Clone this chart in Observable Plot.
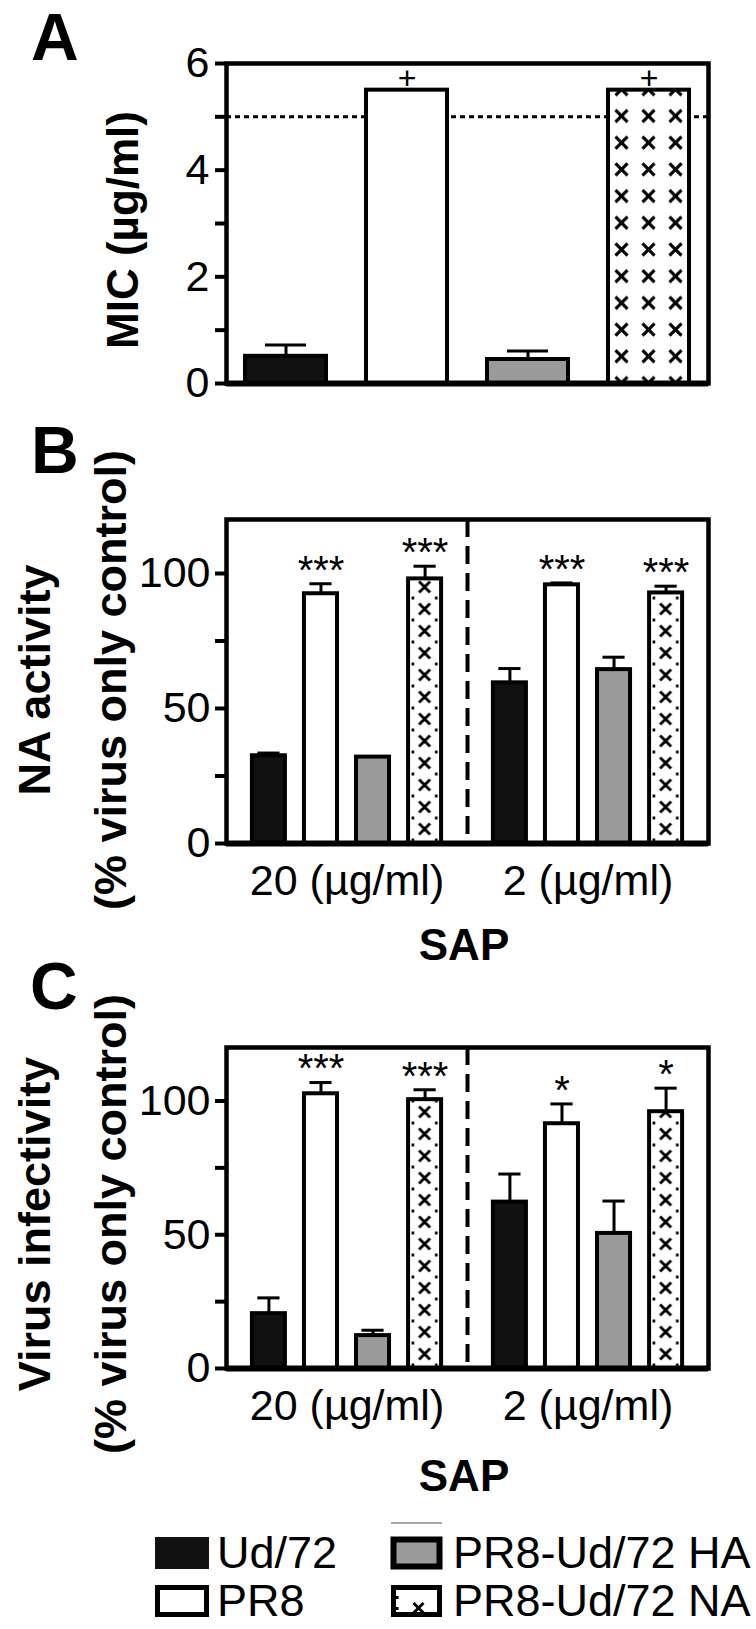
<!DOCTYPE html>
<html><head><meta charset="utf-8">
<script src="https://cdn.jsdelivr.net/npm/d3@7"></script>
<script src="https://cdn.jsdelivr.net/npm/@observablehq/plot@0.6"></script>
<style>
html,body{margin:0;padding:0;background:#fff;}
#root{position:relative;width:756px;height:1629px;overflow:hidden;background:#fff;}
.p [aria-label^="y-axis"] line, .p [aria-label^="y-axis"] path{stroke-width:4px;}
</style></head>
<body><div id="root"></div>
<script>
// ---------- data ----------
const series = ["Ud/72", "PR8", "PR8-Ud/72 HA", "PR8-Ud/72 NA"];
// Panel A: MIC (µg/ml)
const micValues = [0.51, 5.5, 0.45, 5.5];
const micErrors = [0.21, 0, 0.16, 0];
const micMarks = ["", "+", "", "+"];
const micThreshold = 5;
const micTicks = [0, 1, 2, 3, 4, 5, 6];
const micTickLabels = [0, 2, 4, 6];
// SAP doses (groups) for B and C
const doses = ["20 (µg/ml)", "2 (µg/ml)"];
// Panel B: NA activity (% virus only control)
const naValues20 = [32.5, 92.5, 32.0, 98.0];
const naErrors20 = [1.0, 3.7, 0, 4.7];
const naValues2 = [59.5, 95.8, 64.4, 92.8];
const naErrors2 = [5.3, 0.7, 4.6, 2.5];
const naSig20 = ["", "***", "", "***"];
const naSig2 = ["", "***", "", "***"];
// Panel C: Virus infectivity (% virus only control)
const infValues20 = [20.5, 102.7, 12.3, 100.5];
const infErrors20 = [5.9, 4.2, 2.0, 3.7];
const infValues2 = [62.2, 91.5, 50.5, 96.0];
const infErrors2 = [10.5, 7.4, 12.1, 8.8];
const infSig20 = ["", "***", "", "***"];
const infSig2 = ["", "*", "", "*"];
const pctTicks = [0, 25, 50, 75, 100];
const pctTickLabels = [0, 50, 100];

// ---------- styles ----------
const FONT = "'Liberation Sans', Arial, Helvetica, sans-serif";
const HATCH = "#fefefe"; // sentinel, replaced by a pattern after render
const fills = {"Ud/72": "#111", "PR8": "#fff", "PR8-Ud/72 HA": "#9a9a9a", "PR8-Ud/72 NA": HATCH};
const root = document.getElementById("root");
const NS = "http://www.w3.org/2000/svg";

function place(svg, top) {
  svg.classList.add("p");
  svg.style.position = "absolute";
  svg.style.top = top + "px";
  svg.style.left = "0px";
  svg.style.maxWidth = "none";
  root.appendChild(svg);
}

let patCount = 0;
function applyHatch(svg, cols, tileH, rowOffset, dots, size, sw) {
  const defs = document.createElementNS(NS, "defs");
  svg.insertBefore(defs, svg.firstChild);
  const rects = svg.querySelectorAll(`[fill="${HATCH}"] rect`);
  rects.forEach(r => {
    const x = +r.getAttribute("x"), y = +r.getAttribute("y");
    const w = +r.getAttribute("width"), h = +r.getAttribute("height");
    const tw = w / cols;
    const id = "hatch" + (patCount++);
    const p = document.createElementNS(NS, "pattern");
    p.setAttribute("id", id);
    p.setAttribute("patternUnits", "userSpaceOnUse");
    p.setAttribute("x", x);
    p.setAttribute("y", y + h - rowOffset - tileH / 2);
    p.setAttribute("width", tw);
    p.setAttribute("height", tileH);
    const cx = tw / 2, cy = tileH / 2, s = size;
    let inner = `<rect width="${tw}" height="${tileH}" fill="#fff"/>` +
      `<path d="M${cx - s},${cy - s}L${cx + s},${cy + s}M${cx + s},${cy - s}L${cx - s},${cy + s}" stroke="#000" stroke-width="${sw}" fill="none"/>`;
    if (dots) {
      for (const dy of [-1.5, tileH - 1.5]) {
        inner += `<rect x="3.5" y="${dy}" width="2.6" height="3" fill="#000"/><rect x="${tw - 6.1}" y="${dy}" width="2.6" height="3" fill="#000"/>`;
      }
    }
    p.innerHTML = inner;
    defs.appendChild(p);
    r.setAttribute("fill", `url(#${id})`);
  });
}

const plotStyle = {fontFamily: FONT, fontSize: "43px", color: "#000", background: "transparent", overflow: "visible"};

// ---------- Panel A ----------
const dataA = series.map((s, i) => ({series: s, value: micValues[i], err: micErrors[i], mark: micMarks[i]}));
const plotA = Plot.plot({
  width: 756, height: 400,
  marginLeft: 226, marginRight: 48, marginTop: 63, marginBottom: 17,
  style: plotStyle,
  x: {domain: series, paddingInner: 0.33, paddingOuter: 0.15, axis: null},
  y: {domain: [0, 6], ticks: micTicks, tickFormat: d => micTickLabels.includes(d) ? d : "", tickSize: 11, tickPadding: 6, label: null},
  marks: [
    Plot.ruleY([micThreshold], {stroke: "#000", strokeWidth: 3, strokeDasharray: "5,4"}),
    ...series.map(s => Plot.barY(dataA.filter(d => d.series === s), {x: "series", y: "value", fill: fills[s], stroke: "#000", strokeWidth: 4})),
    Plot.ruleX(dataA.filter(d => d.err > 0), {x: "series", y1: "value", y2: d => d.value + d.err, stroke: "#000", strokeWidth: 3}),
    Plot.tickY(dataA.filter(d => d.err > 0), {x: "series", y: d => d.value + d.err, stroke: "#000", strokeWidth: 3, insetLeft: 20, insetRight: 20}),
    Plot.text(dataA.filter(d => d.mark), {x: "series", y: d => d.value + d.err, text: "mark", dy: -11, fontSize: 32, fill: "#000"}),
    Plot.frame({stroke: "#000", strokeWidth: 4.5}),
    Plot.ruleY([0], {stroke: "#000", strokeWidth: 6})
  ]
});
place(plotA, 0);
applyHatch(plotA, 3, 26.7, 0, false, 6, 3.2);

// ---------- Panels B and C ----------
const barStep = 0.216, barHalf = 0.0685, capHalf = 0.046;
function groupedData(v20, e20, v2, e2, s20, s2) {
  const vals = [v20, v2], errs = [e20, e2], sigs = [s20, s2];
  const out = [];
  doses.forEach((dose, gi) => series.forEach((s, si) => {
    const xc = gi + (si - 1.5) * barStep;
    out.push({dose, series: s, xc, value: vals[gi][si], err: errs[gi][si], sig: sigs[gi][si]});
  }));
  return out;
}
function groupedPlot(data, height, marginTop, marginBottom) {
  return Plot.plot({
    width: 756, height,
    marginLeft: 226, marginRight: 48, marginTop, marginBottom,
    style: plotStyle,
    x: {domain: [-0.5, 1.5], ticks: [0, 1], tickFormat: i => doses[i], tickSize: 0, tickPadding: 21, label: null},
    y: {domain: [0, 120], ticks: pctTicks, tickFormat: d => pctTickLabels.includes(d) ? d : "", tickSize: 11, tickPadding: 5, label: null},
    marks: [
      ...series.map(s => Plot.rect(data.filter(d => d.series === s), {x1: d => d.xc - barHalf, x2: d => d.xc + barHalf, y1: 0, y2: "value", fill: fills[s], stroke: "#000", strokeWidth: 4})),
      Plot.ruleX(data.filter(d => d.err > 0), {x: "xc", y1: "value", y2: d => d.value + d.err, stroke: "#000", strokeWidth: 3}),
      Plot.ruleY(data.filter(d => d.err > 0), {y: d => d.value + d.err, x1: d => d.xc - capHalf, x2: d => d.xc + capHalf, stroke: "#000", strokeWidth: 3}),
      Plot.text(data.filter(d => d.sig), {x: "xc", y: d => d.value + d.err, text: "sig", dy: -13, fontSize: 40, fill: "#000"}),
      Plot.ruleX([0.5], {stroke: "#000", strokeWidth: 4, strokeDasharray: "18,9"}),
      Plot.frame({stroke: "#000", strokeWidth: 4.5}),
      Plot.ruleY([0], {stroke: "#000", strokeWidth: 6})
    ]
  });
}
const dataB = groupedData(naValues20, naErrors20, naValues2, naErrors2, naSig20, naSig2);
const plotB = groupedPlot(dataB, 450, 39, 87);
place(plotB, 480);
applyHatch(plotB, 1, 22, 14, true, 5.5, 2.9);

const dataC = groupedData(infValues20, infErrors20, infValues2, infErrors2, infSig20, infSig2);
const plotC = groupedPlot(dataC, 440, 47, 72);
place(plotC, 1000);
applyHatch(plotC, 1, 22, 14, true, 5.5, 2.9);

// ---------- overlay: panel letters, axis titles, legend ----------
const ov = document.createElementNS(NS, "svg");
ov.setAttribute("width", 756); ov.setAttribute("height", 1629);
ov.style.position = "absolute"; ov.style.left = "0"; ov.style.top = "0";
ov.style.pointerEvents = "none";
ov.style.fontFamily = FONT;
root.appendChild(ov);
function txt(str, x, y, opts = {}) {
  const t = document.createElementNS(NS, "text");
  t.textContent = str;
  t.setAttribute("x", 0); t.setAttribute("y", 0);
  t.setAttribute("transform", `translate(${x},${y})` + (opts.rotate ? ` rotate(${opts.rotate})` : ""));
  t.setAttribute("font-size", opts.size || 44);
  if (opts.bold) t.setAttribute("font-weight", "bold");
  t.setAttribute("text-anchor", opts.anchor || "start");
  t.setAttribute("fill", "#000");
  ov.appendChild(t);
}
const panelLetters = ["A", "B", "C"];
txt(panelLetters[0], 31, 60, {size: 66, bold: true});
txt(panelLetters[1], 31, 473, {size: 66, bold: true});
txt(panelLetters[2], 30, 1009, {size: 66, bold: true});

const yTitles = {A: ["MIC (µg/ml)"], B: ["NA activity", "(% virus only control)"], C: ["Virus infectivity", "(% virus only control)"]};
txt(yTitles.A[0], 138, 230, {rotate: -90, anchor: "middle", bold: true, size: 44});
txt(yTitles.B[0], 50, 680, {rotate: -90, anchor: "middle", bold: true, size: 45});
txt(yTitles.B[1], 126, 680, {rotate: -90, anchor: "middle", bold: true, size: 45});
txt(yTitles.C[0], 50, 1224, {rotate: -90, anchor: "middle", bold: true, size: 45});
txt(yTitles.C[1], 126, 1224, {rotate: -90, anchor: "middle", bold: true, size: 45});
const xTitle = "SAP";
txt(xTitle, 464, 960, {anchor: "middle", bold: true, size: 44});
txt(xTitle, 464, 1491, {anchor: "middle", bold: true, size: 44});

// legend
function el(name, attrs) {
  const e = document.createElementNS(NS, name);
  for (const k in attrs) e.setAttribute(k, attrs[k]);
  ov.appendChild(e);
  return e;
}
const legendPos = [[155, 1537], [155, 1585], [391, 1537], [391, 1585]];
const legendOrder = ["Ud/72", "PR8", "PR8-Ud/72 HA", "PR8-Ud/72 NA"];
el("line", {x1: 391, x2: 442, y1: 1523, y2: 1523, stroke: "#8a8a8a", "stroke-width": 1.5});
legendOrder.forEach((s, i) => {
  const [lx, ly] = legendPos[i];
  const w = i < 2 ? 54 : 51, h = 32;
  if (s === "Ud/72") {
    el("rect", {x: lx, y: ly, width: w, height: h, fill: "#111"});
  } else {
    el("rect", {x: lx + 2.5, y: ly + 2.5, width: w - 5, height: h - 5, fill: s === "PR8-Ud/72 HA" ? "#9a9a9a" : "#fff", stroke: "#000", "stroke-width": s === "PR8-Ud/72 HA" ? 6 : 5});
    if (s === "PR8-Ud/72 NA") {
      const cx = lx + w / 2 + 2, cy = ly + h - 9;
      el("path", {d: `M${cx - 5},${cy - 5}L${cx + 5},${cy + 5}M${cx + 5},${cy - 5}L${cx - 5},${cy + 5}`, stroke: "#000", "stroke-width": 2.9, fill: "none"});
      el("rect", {x: lx + 5, y: ly + 11, width: 2.6, height: 3, fill: "#000"});
      el("rect", {x: lx + 5, y: ly + 22, width: 2.6, height: 3, fill: "#000"});
    }
  }
  txt(s, lx + 62, ly + 31, {size: 45});
});
</script>
</body></html>
